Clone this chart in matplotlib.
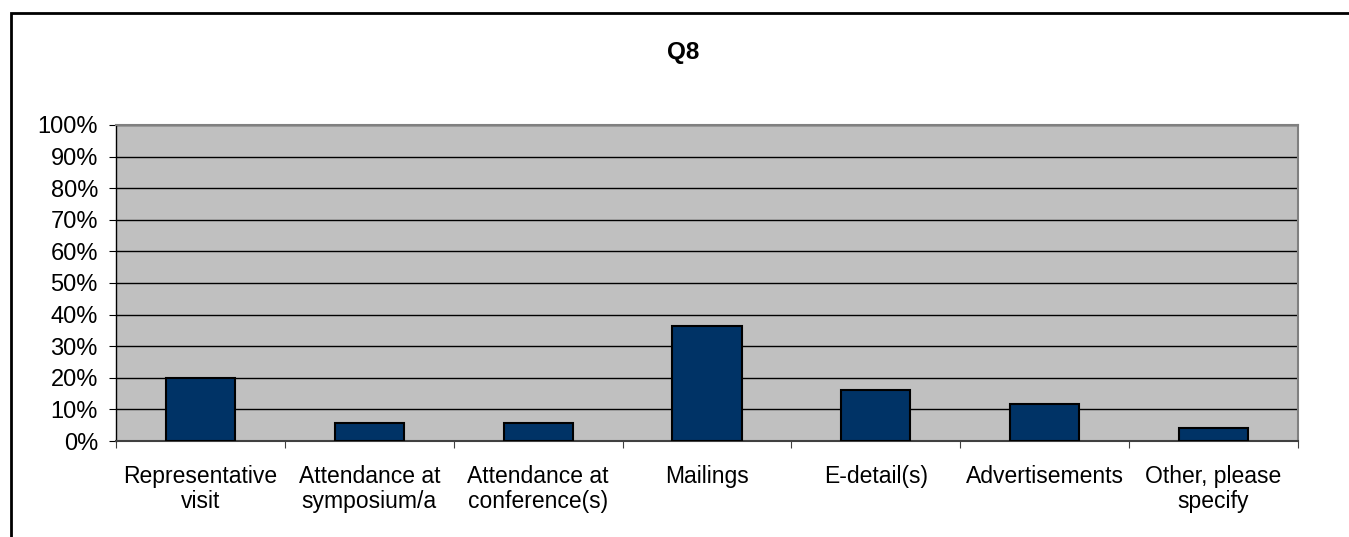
import matplotlib
matplotlib.use("Agg")
import matplotlib.pyplot as plt
from matplotlib.patches import Rectangle
from matplotlib.ticker import FixedLocator, NullFormatter, FixedFormatter

categories = ["Representative\nvisit", "Attendance at\nsymposium/a", "Attendance at\nconference(s)",
              "Mailings", "E-detail(s)", "Advertisements", "Other, please\nspecify"]
values = [20.0, 5.8, 5.8, 36.5, 16.2, 11.6, 4.2]
yticks = list(range(0, 101, 10))
ytick_labels = [f"{v}%" for v in yticks]
title = "Q8"

plt.rcParams['font.family'] = ['Liberation Sans', 'DejaVu Sans']

fig = plt.figure(figsize=(13.49, 5.37), dpi=100)
ax = fig.add_axes([116/1349, 1-441/537, (1298-116)/1349, (441-125)/537])
ax.set_facecolor('#c0c0c0')

x = list(range(len(categories)))
ax.bar(x, values, width=0.41, color='#003366', edgecolor='black', linewidth=1.5, zorder=3)

ax.set_xlim(-0.5, len(categories) - 0.5)
ax.set_ylim(0, 100)
ax.set_yticks(yticks)
ax.set_yticklabels(ytick_labels, fontsize=17)
ax.yaxis.grid(True, color='black', linewidth=1.0, zorder=1)
ax.set_axisbelow(True)

ax.xaxis.set_major_locator(FixedLocator([i - 0.5 for i in range(len(categories) + 1)]))
ax.xaxis.set_major_formatter(NullFormatter())
ax.xaxis.set_minor_locator(FixedLocator(x))
ax.xaxis.set_minor_formatter(FixedFormatter(categories))
ax.tick_params(axis='x', which='minor', length=0, labelsize=16.5, pad=17)
ax.tick_params(axis='x', which='major', length=5, direction='out', color='#404040')
ax.tick_params(axis='y', length=5, direction='out', color='black', pad=8)
for lbl in ax.xaxis.get_minorticklabels():
    lbl.set_horizontalalignment('center')
    lbl.set_multialignment('center')
    lbl.set_linespacing(1.15)

for side in ['top', 'right']:
    ax.spines[side].set_color('#808080')
    ax.spines[side].set_linewidth(1.5)
ax.spines['bottom'].set_color('#404040')
ax.spines['bottom'].set_linewidth(1.5)
ax.spines['left'].set_color('black')
ax.spines['left'].set_linewidth(1.0)

fig.text(683/1349, 1-52/537, title, ha='center', va='center', fontsize=17.5, fontweight='bold')

fig.patches.append(Rectangle((11/1349, -0.1), 1.2, 1-13/537 + 0.1, transform=fig.transFigure,
                             fill=False, edgecolor='black', linewidth=2, zorder=10))

fig.savefig("out.png", dpi=100)
